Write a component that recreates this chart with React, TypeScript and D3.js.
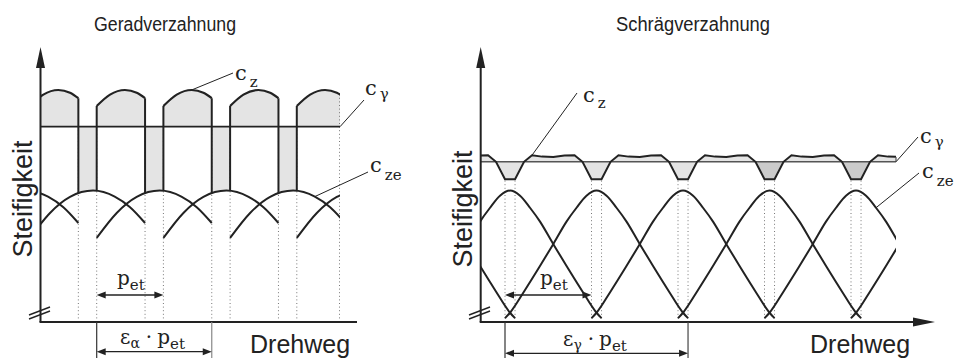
import React from "react";
import * as d3 from "d3";

// ---------- Geradverzahnung (spur gear) ----------
// Drehweg in units of p_et, stiffness in arbitrary units (0..100)
const spurEpsilon = 1.725; // ε_α
const spurToothStarts = [-2, -1, 0, 1, 2, 3];
const spurToothOffset = [0, 0.3, 0.6, 0.945, 1.27, 1.5, 1.725];
const spurToothStiffness = [30.9, 40.1, 46.0, 48.3, 46.1, 42.2, 36.4];
const spurPairOffset = [0, 0.2, 0.424, 0.6, 0.725];
const spurPairStiffness = [79.4, 83.6, 85.3, 84.3, 82.3];
const spurCGamma = 71.8;

// ---------- Schrägverzahnung (helical gear) ----------
const helixEpsilon = 2.116; // ε_γ
const helixToothStarts = [-3, -2, -1, 0, 1, 2, 3, 4];
const helixToothOffset = [0, 0.058, 0.226, 0.399, 0.561, 0.711, 0.827, 0.942, 1.058, 1.174, 1.289, 1.405, 1.555, 1.717, 1.89, 2.058, 2.116];
const helixToothStiffness = [1.4, 3.4, 11.5, 20.3, 28.8, 36.9, 42.0, 46.4, 48.3, 46.4, 42.0, 36.9, 28.8, 20.3, 11.5, 3.4, 1.4];
const helixDipCentres = [0.058, 1.058, 2.058, 3.058, 4.058];
const helixDipShade = ["#e3e3e3", "#e3e3e3", "#e3e3e3", "#cbcbcb", "#cbcbcb"];
const helixCzOffset = [-0.5, -0.37, -0.254, -0.162, -0.058, 0.058, 0.162, 0.254, 0.37, 0.5];
const helixCzStiffness = [60.7, 61.2, 61.3, 58.9, 52.5, 52.5, 58.9, 61.3, 60.8, 60.7];
const helixCGamma = 58.9;

type Pt = { o: number; v: number };
const zip = (o: number[], v: number[]): Pt[] => o.map((d, i) => ({ o: d, v: v[i] }));
const spurTooth = zip(spurToothOffset, spurToothStiffness);
const spurPair = zip(spurPairOffset, spurPairStiffness);
const helixTooth = zip(helixToothOffset, helixToothStiffness);
const helixCzPeriod = zip(helixCzOffset, helixCzStiffness);

const W = 957;
const H = 358;
const AXIS_Y = 322;
const yS = d3.scaleLinear().domain([0, 100]).range([AXIS_Y, 50]);
const spurX = d3.scaleLinear().domain([0, 1]).range([96.7, 163.4]);
const helixX = d3.scaleLinear().domain([0, 1]).range([505, 591.5]);

const INK = "#222";
const FILL = "#e4e4e4";
const SANS = "'Liberation Sans', Arial, sans-serif";
const SERIF = "'DejaVu Serif', 'Liberation Serif', serif";

function head(x: number, y: number, dir: "l" | "r" | "u", len = 9, half = 3.5) {
  if (dir === "r") return `M${x},${y}L${x - len},${y - half}L${x - len},${y + half}Z`;
  if (dir === "l") return `M${x},${y}L${x + len},${y - half}L${x + len},${y + half}Z`;
  return `M${x},${y}L${x - half},${y + len}L${x + half},${y + len}Z`;
}

function Dim({ x1, x2, y }: { x1: number; x2: number; y: number }) {
  return (
    <g>
      <line x1={x1 + 4} x2={x2 - 4} y1={y} y2={y} stroke={INK} strokeWidth={1.3} />
      <path d={head(x1, y, "l")} fill={INK} />
      <path d={head(x2, y, "r")} fill={INK} />
    </g>
  );
}

function Sym({ x, y, main, sub, dy = 8 }: { x: number; y: number; main: string; sub: string; dy?: number }) {
  return (
    <text x={x} y={y} fontFamily={SERIF} fill={INK}>
      <tspan fontSize={21}>{main}</tspan>
      <tspan fontSize={15} dx={3} dy={dy}>{sub}</tspan>
    </text>
  );
}

function Product({ x, y, eps }: { x: number; y: number; eps: string }) {
  return (
    <text x={x} y={y} fontFamily={SERIF} fill={INK}>
      <tspan fontSize={20}>ε</tspan>
      <tspan fontSize={14} dy={4}>{eps}</tspan>
      <tspan fontSize={20} dx={6} dy={-4}>·</tspan>
      <tspan fontSize={20} dx={5}>p</tspan>
      <tspan fontSize={15} dy={5}>et</tspan>
    </text>
  );
}

function BreakMark({ x }: { x: number }) {
  return (
    <g stroke={INK} strokeWidth={1.4}>
      <line x1={x - 11} y1={315} x2={x + 10} y2={307} />
      <line x1={x - 11} y1={319} x2={x + 10} y2={311} />
    </g>
  );
}

function SpurPanel() {
  const x = spurX;
  const left = 40.5;
  const right = 340;
  const uL = x.invert(left);
  const uR = x.invert(right);
  const gapStart = spurEpsilon - 1;

  const toothLine = (k: number) =>
    d3.line<Pt>().x((d) => x(k + d.o)).y((d) => yS(d.v)).curve(d3.curveMonotoneX)(spurTooth) || "";
  const aboveTooth = (k: number) =>
    d3.area<Pt>().x((d) => x(k + d.o)).y0(0).y1((d) => yS(d.v)).curve(d3.curveMonotoneX)(spurTooth) || "";
  const pairArea = (k: number) =>
    d3.area<Pt>().x((d) => x(k + d.o)).y0(yS(spurCGamma)).y1((d) => yS(d.v)).curve(d3.curveMonotoneX)(spurPair) || "";
  const pairLine = (k: number) =>
    d3.line<Pt>().x((d) => x(k + d.o)).y((d) => yS(d.v)).curve(d3.curveMonotoneX)(spurPair) || "";
  const belowPair = (k: number) =>
    d3.area<Pt>().x((d) => x(k + d.o)).y0(AXIS_Y).y1((d) => yS(d.v)).curve(d3.curveMonotoneX)(spurPair) || "";

  const pairs = spurToothStarts.filter((k) => k + gapStart > uL && k < uR);
  const gaps = spurToothStarts.filter((k) => k + 1 > uL && k + gapStart < uR);
  const lastPair = pairs.find((k) => k <= uR && uR <= k + gapStart) ?? pairs[pairs.length - 1];
  const pairEndV = spurPairStiffness[spurPairStiffness.length - 1];
  const pairStartV = spurPairStiffness[0];

  const czAnchor = { x: x(1 + spurPair[2].o), y: yS(spurPair[2].v) };
  const czeAnchor = { x: x(2 + spurTooth[4].o), y: yS(spurTooth[4].v) };

  return (
    <g>
      <defs>
        <clipPath id="spur-plot">
          <rect x={left} y={0} width={right - left} height={H} />
        </clipPath>
        {gaps.map((k) => (
          <clipPath id={`spur-above-${k}`} key={k}>
            <path d={aboveTooth(k)} />
          </clipPath>
        ))}
        <clipPath id="spur-below-last">
          <path d={belowPair(lastPair)} />
        </clipPath>
      </defs>

      <g clipPath="url(#spur-plot)">
        {/* shaded c_z regions */}
        {pairs.map((k) => (
          <path key={`pa${k}`} d={pairArea(k)} fill={FILL} />
        ))}
        {gaps.map((k) => (
          <g key={`ga${k}`} clipPath={`url(#spur-above-${k})`}>
            <rect x={x(k + gapStart)} width={x(k + 1) - x(k + gapStart)} y={yS(spurCGamma)} height={AXIS_Y - yS(spurCGamma)} fill={FILL} />
          </g>
        ))}

        {/* dotted guides */}
        <g stroke="#777" strokeWidth={1} strokeDasharray="1 2.6">
          {gaps.flatMap((k) => [
            <line key={`d1${k}`} x1={x(k + gapStart)} x2={x(k + gapStart)} y1={AXIS_Y} y2={yS(spurCGamma)} />,
            <line key={`d2${k}`} x1={x(k + 1)} x2={x(k + 1)} y1={AXIS_Y} y2={yS(spurCGamma)} />,
          ])}
        </g>
        <g clipPath="url(#spur-below-last)">
          <line x1={right - 0.5} x2={right - 0.5} y1={AXIS_Y} y2={0} stroke="#777" strokeWidth={1} strokeDasharray="1 2.6" />
        </g>

        {/* single tooth stiffness c_ze */}
        {spurToothStarts.map((k) => (
          <path key={`t${k}`} d={toothLine(k)} fill="none" stroke={INK} strokeWidth={2} />
        ))}

        {/* c_z */}
        {pairs.map((k) => (
          <path key={`pl${k}`} d={pairLine(k)} fill="none" stroke={INK} strokeWidth={2.2} />
        ))}
        {gaps.map((k) => (
          <g key={`v${k}`} clipPath={`url(#spur-above-${k})`} stroke={INK} strokeWidth={2}>
            <line x1={x(k + gapStart)} x2={x(k + gapStart)} y1={yS(pairEndV)} y2={AXIS_Y} />
            <line x1={x(k + 1)} x2={x(k + 1)} y1={yS(pairStartV)} y2={AXIS_Y} />
          </g>
        ))}
      </g>

      {/* c_gamma */}
      <line x1={left} x2={right} y1={yS(spurCGamma)} y2={yS(spurCGamma)} stroke={INK} strokeWidth={1.8} />

      {/* axes */}
      <line x1={left} x2={left} y1={AXIS_Y} y2={62} stroke={INK} strokeWidth={2} />
      <path d={head(left, 47, "u", 21, 4.5)} fill={INK} />
      <line x1={left - 1} x2={357} y1={AXIS_Y} y2={AXIS_Y} stroke={INK} strokeWidth={2} />
      <BreakMark x={40} />

      {/* leaders and labels */}
      <g stroke={INK} strokeWidth={1}>
        <line x1={czAnchor.x} y1={czAnchor.y} x2={233} y2={73} />
        <line x1={right} y1={yS(spurCGamma)} x2={364} y2={100} />
        <line x1={czeAnchor.x} y1={czeAnchor.y} x2={368} y2={172} />
      </g>
      <Sym x={235} y={80} main="c" sub="z" dy={7} />
      <Sym x={365} y={95} main="c" sub="γ" dy={4} />
      <Sym x={370} y={172} main="c" sub="ze" dy={8} />

      {/* dimensions */}
      <text x={117} y={285} fontFamily={SERIF} fill={INK}>
        <tspan fontSize={20}>p</tspan>
        <tspan fontSize={15} dy={5}>et</tspan>
      </text>
      <Dim x1={x(0)} x2={x(1)} y={295} />
      <line x1={x(0)} x2={x(0)} y1={AXIS_Y} y2={358} stroke="#333" strokeWidth={1.2} />
      <line x1={x(spurEpsilon)} x2={x(spurEpsilon)} y1={AXIS_Y} y2={358} stroke="#888" strokeWidth={1.2} />
      <Dim x1={x(0)} x2={x(spurEpsilon)} y={351.7} />
      <Product x={120} y={344} eps="α" />

      <text x={165} y={31} textAnchor="middle" fontFamily={SANS} fontSize={20} textLength={142} lengthAdjust="spacingAndGlyphs" fill={INK}>Geradverzahnung</text>
      <text transform="translate(32,199) rotate(-90)" textAnchor="middle" fontFamily={SANS} fontSize={27} fill={INK}>Steifigkeit</text>
      <text x={250} y={353} fontFamily={SANS} fontSize={25} fill={INK}>Drehweg</text>
    </g>
  );
}

function HelixPanel() {
  const x = helixX;
  const left = 480.7;
  const right = 896;

  const czPts: Pt[] = helixDipCentres.flatMap((c, i) =>
    helixCzPeriod.slice(i === 0 ? 0 : 1).map((p) => ({ o: c + p.o, v: p.v }))
  );
  const bandArea = d3.area<Pt>().x((d) => x(d.o)).y0(yS(helixCGamma)).y1((d) => yS(d.v))(czPts) || "";
  const czLine = d3.line<Pt>().x((d) => x(d.o)).y((d) => yS(d.v))(czPts) || "";
  const dipPts = (c: number) => helixCzPeriod.slice(3, 7).map((p) => ({ o: c + p.o, v: p.v }));
  const dipArea = (c: number) => d3.area<Pt>().x((d) => x(d.o)).y0(yS(helixCGamma)).y1((d) => yS(d.v))(dipPts(c)) || "";
  const toothLine = (k: number) =>
    d3.line<Pt>().x((d) => x(k + d.o)).y((d) => yS(d.v)).curve(d3.curveMonotoneX)(helixTooth) || "";

  const lo = helixCzOffset[4];
  const hi = helixCzOffset[5];
  const dipBottom = helixCzStiffness[4];
  const czAnchor = { x: x(helixDipCentres[0] + helixCzOffset[7]), y: yS(helixCzStiffness[7]) };
  const czeAnchor = { x: x(3 + helixToothOffset[10]), y: yS(helixToothStiffness[10]) };
  const czRightV = czPts[czPts.length - 1].v;

  return (
    <g>
      <defs>
        <clipPath id="helix-plot">
          <rect x={left} y={0} width={right - left} height={H} />
        </clipPath>
      </defs>
      <g clipPath="url(#helix-plot)">
        <path d={bandArea} fill={FILL} />
        {helixDipCentres.map((c, i) => (
          <path key={`dip${i}`} d={dipArea(c)} fill={helixDipShade[i]} />
        ))}
        <g stroke="#777" strokeWidth={1} strokeDasharray="1 2.6">
          {helixDipCentres.flatMap((c, i) => [
            <line key={`a${i}`} x1={x(c + lo)} x2={x(c + lo)} y1={AXIS_Y} y2={yS(dipBottom)} />,
            <line key={`b${i}`} x1={x(c + hi)} x2={x(c + hi)} y1={AXIS_Y} y2={yS(dipBottom)} />,
          ])}
        </g>
        {helixToothStarts.map((k) => (
          <path key={`t${k}`} d={toothLine(k)} fill="none" stroke={INK} strokeWidth={2} />
        ))}
        <line x1={left} x2={right} y1={yS(helixCGamma)} y2={yS(helixCGamma)} stroke="#555" strokeWidth={1.5} />
        <path d={czLine} fill="none" stroke={INK} strokeWidth={2} />
      </g>
      <line x1={right} x2={right} y1={yS(czRightV)} y2={yS(helixCGamma)} stroke="#555" strokeWidth={1.2} />

      {/* axes */}
      <line x1={left} x2={left} y1={AXIS_Y} y2={62} stroke={INK} strokeWidth={2} />
      <path d={head(left, 47, "u", 21, 4.5)} fill={INK} />
      <line x1={left - 1} x2={915} y1={AXIS_Y} y2={AXIS_Y} stroke={INK} strokeWidth={2} />
      <path d={head(935, AXIS_Y, "r", 22, 4.5)} fill={INK} />
      <BreakMark x={480} />

      {/* leaders and labels */}
      <g stroke={INK} strokeWidth={1}>
        <line x1={czAnchor.x} y1={czAnchor.y} x2={577} y2={93} />
        <line x1={right} y1={yS(helixCGamma)} x2={918} y2={137} />
        <line x1={czeAnchor.x} y1={czeAnchor.y} x2={919} y2={173} />
      </g>
      <Sym x={583} y={102} main="c" sub="z" dy={6} />
      <Sym x={920} y={143} main="c" sub="γ" dy={4} />
      <Sym x={922} y={178} main="c" sub="ze" dy={8} />

      {/* dimensions */}
      <text x={540} y={285} fontFamily={SERIF} fill={INK}>
        <tspan fontSize={20}>p</tspan>
        <tspan fontSize={15} dy={5}>et</tspan>
      </text>
      <Dim x1={x(0)} x2={x(1)} y={295} />
      <line x1={x(0)} x2={x(0)} y1={AXIS_Y} y2={358} stroke="#333" strokeWidth={1.2} />
      <line x1={x(helixEpsilon)} x2={x(helixEpsilon)} y1={AXIS_Y} y2={358} stroke="#444" strokeWidth={1.2} />
      <Dim x1={x(0)} x2={x(helixEpsilon)} y={353.3} />
      <Product x={563} y={346} eps="γ" />

      <text x={693} y={31} textAnchor="middle" fontFamily={SANS} fontSize={20} textLength={154} lengthAdjust="spacingAndGlyphs" fill={INK}>Schrägverzahnung</text>
      <text transform="translate(472,209) rotate(-90)" textAnchor="middle" fontFamily={SANS} fontSize={27} fill={INK}>Steifigkeit</text>
      <text x={810} y={353} fontFamily={SANS} fontSize={25} fill={INK}>Drehweg</text>
    </g>
  );
}

export default function App() {
  return (
    <svg
      width={W}
      height={H}
      viewBox={`0 0 ${W} ${H}`}
      style={{ position: "absolute", left: 0, top: 0, background: "#fff" }}
    >
      <rect width={W} height={H} fill="#fff" />
      <SpurPanel />
      <HelixPanel />
    </svg>
  );
}
